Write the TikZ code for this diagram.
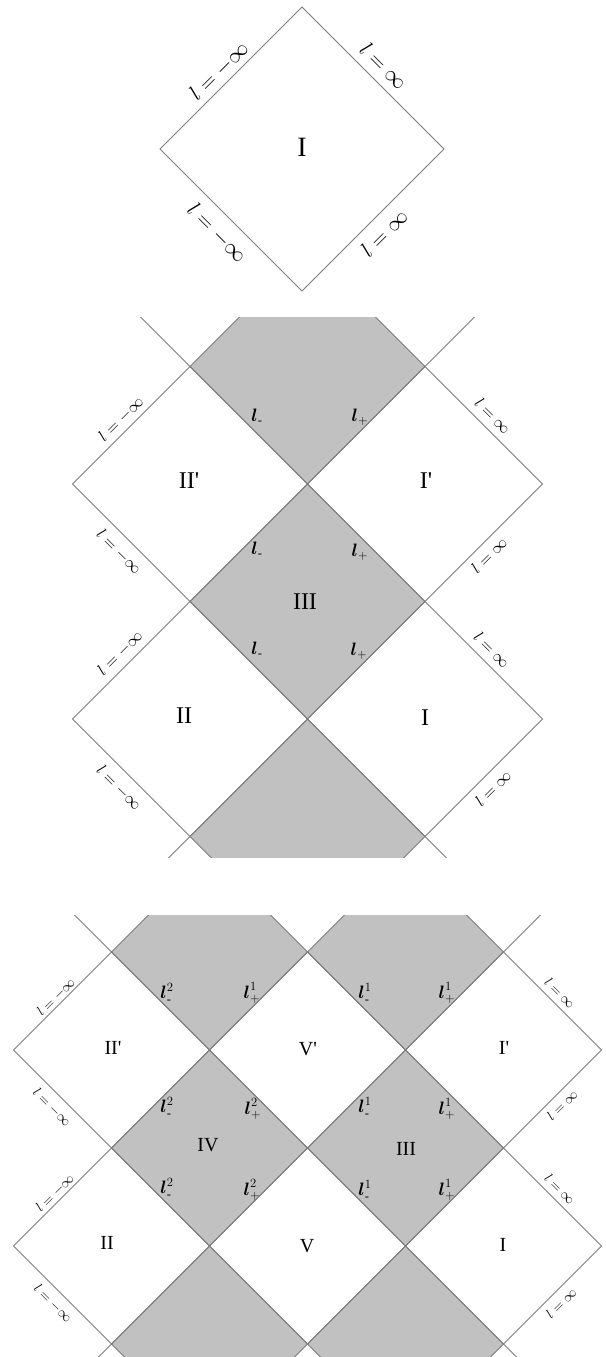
\RequirePackage{fix-cm}
\documentclass[tikz,border=0pt]{standalone}
\usepackage{amsmath}
\usepackage{fontspec}
\setmainfont{Liberation Serif}
\definecolor{edgec}{RGB}{125,125,125}
\definecolor{shade}{RGB}{193,193,193}
\tikzset{
  edge/.style={draw=edgec,line width=0.9pt},
  shaded/.style={fill=shade},
  inflA/.style={font=\fontsize{22}{26}\selectfont,inner sep=0pt},
  inflB/.style={font=\fontsize{16.5}{20}\selectfont,inner sep=0pt},
  inflC/.style={font=\fontsize{14}{17}\selectfont,inner sep=0pt},
  regA/.style={font=\fontsize{28}{32}\selectfont,inner sep=0pt},
  regB/.style={font=\fontsize{24}{28}\selectfont,inner sep=0pt},
  regC/.style={font=\fontsize{20}{24}\selectfont,inner sep=0pt},
  hor/.style={font=\fontsize{18}{21}\selectfont,inner sep=0pt}
}
\newcommand\dmd[4]{\path[#4] ({#1-#3},#2) -- (#1,{#2-#3}) -- ({#1+#3},#2) -- (#1,{#2+#3}) -- cycle;}
\newcommand\lm{$l=-\infty$}
\newcommand\lp{$l=\infty$}
\newcommand\tq{\textquotesingle}
\newcommand\bl{\boldsymbol{l}}
\begin{document}
\begin{tikzpicture}[x=1pt,y=-1pt]
\useasboundingbox (0,0) rectangle (605,1357);
% ---------------- top diagram ----------------
\dmd{302}{149}{142}{edge}
\node[inflA,rotate=45]  (ta) at (219,71)  {\lm};
\node[inflA,rotate=-45] (tb) at (384,66)  {\lp};
\node[inflA,rotate=-45] (tc) at (217,233) {\lm};
\node[inflA,rotate=45]  (td) at (384,233) {\lp};
\node[regA] (tI) at (302,147) {I};
% ---------------- middle diagram ----------------
\begin{scope}
\clip (0,317) rectangle (605,857);
\dmd{307.5}{366.5}{117.5}{shaded}
\dmd{307.5}{601.5}{117.5}{shaded}
\dmd{307.5}{836.5}{117.5}{shaded}
\foreach \cx/\cy in {307.5/366.5,307.5/601.5,307.5/836.5,190/484,425/484,190/719,425/719}
  {\dmd{\cx}{\cy}{117.5}{edge}}
\draw[edge] (190,366.5) -- +(-70,-70);
\draw[edge] (425,366.5) -- +(70,-70);
\draw[edge] (190,836.5) -- +(-70,70);
\draw[edge] (425,836.5) -- +(70,70);
\end{scope}
\node[inflB,rotate=45]  (ma) at (121,419) {\lm};
\node[inflB,rotate=-45] (mb) at (119,552) {\lm};
\node[inflB,rotate=-45] (mc) at (493,416) {\lp};
\node[inflB,rotate=45]  (md) at (489,555) {\lp};
\node[inflB,rotate=45]  (me) at (120,653) {\lm};
\node[inflB,rotate=-45] (mf) at (119,788) {\lm};
\node[inflB,rotate=-45] (mg) at (492,650) {\lp};
\node[inflB,rotate=45]  (mh) at (493,788) {\lp};
\node[regB] (mIIp) at (189,481) {II\tq};
\node[regB] (mIp)  at (426,481) {I\tq};
\node[regB] (mIII) at (305,602) {III};
\node[regB] (mII)  at (184,716) {II};
\node[regB] (mI)   at (425,718) {I};
\node[hor] (h1) at (257,417) {$\bl_{\text{-}}$};
\node[hor] (h2) at (360,417) {$\bl_{+}$};
\node[hor] (h3) at (257,550) {$\bl_{\text{-}}$};
\node[hor] (h4) at (360,552) {$\bl_{+}$};
\node[hor] (h5) at (257,650) {$\bl_{\text{-}}$};
\node[hor] (h6) at (359,651) {$\bl_{+}$};
% ---------------- bottom diagram ----------------
\begin{scope}
\clip (0,915) rectangle (605,1360);
\foreach \cx/\cy in {209.5/952,405.5/952,209.5/1148,405.5/1148,209.5/1344,405.5/1344}
  {\dmd{\cx}{\cy}{98}{shaded}}
\foreach \cx/\cy in {209.5/952,405.5/952,209.5/1148,405.5/1148,209.5/1344,405.5/1344,
  111.5/1050,307.5/1050,503.5/1050,111.5/1246,307.5/1246,503.5/1246}
  {\dmd{\cx}{\cy}{98}{edge}}
\draw[edge] (111.5,952) -- +(-60,-60);
\draw[edge] (503.5,952) -- +(60,-60);
\draw[edge] (111.5,1344) -- +(-60,60);
\draw[edge] (503.5,1344) -- +(60,60);
\end{scope}
\node[inflC,rotate=45]  (ba) at (56,997)   {\lm};
\node[inflC,rotate=-45] (bb) at (52,1107)  {\lm};
\node[inflC,rotate=-45] (bc) at (560,993)  {\lp};
\node[inflC,rotate=45]  (bd) at (562,1105) {\lp};
\node[inflC,rotate=45]  (be) at (55,1193)  {\lm};
\node[inflC,rotate=-45] (bf) at (53,1303)  {\lm};
\node[inflC,rotate=-45] (bg) at (560,1189) {\lp};
\node[inflC,rotate=45]  (bh) at (561,1303) {\lp};
\node[regC] (bIIp) at (113,1048) {II\tq};
\node[regC] (bVp)  at (308,1049) {V\tq};
\node[regC] (bIp)  at (504,1048) {I\tq};
\node[regC] (bIV)  at (208,1145) {IV};
\node[regC] (bIII) at (406,1149) {III};
\node[regC] (bII)  at (107,1243) {II};
\node[regC] (bV)   at (307,1246) {V};
\node[regC] (bI)   at (503,1245) {I};
\node[hor] (k1) at (167,993)  {$\bl^{2}_{\text{-}}$};
\node[hor] (k2) at (252,993)  {$\bl^{1}_{+}$};
\node[hor] (k3) at (365,993)  {$\bl^{1}_{\text{-}}$};
\node[hor] (k4) at (447,993)  {$\bl^{1}_{+}$};
\node[hor] (k5) at (167,1107) {$\bl^{2}_{\text{-}}$};
\node[hor] (k6) at (253,1109) {$\bl^{2}_{+}$};
\node[hor] (k7) at (365,1107) {$\bl^{1}_{\text{-}}$};
\node[hor] (k8) at (447,1109) {$\bl^{1}_{+}$};
\node[hor] (k9) at (167,1188) {$\bl^{2}_{\text{-}}$};
\node[hor] (k10) at (252,1190) {$\bl^{2}_{+}$};
\node[hor] (k11) at (365,1190) {$\bl^{1}_{\text{-}}$};
\node[hor] (k12) at (447,1190) {$\bl^{1}_{+}$};
\end{tikzpicture}
\end{document}
